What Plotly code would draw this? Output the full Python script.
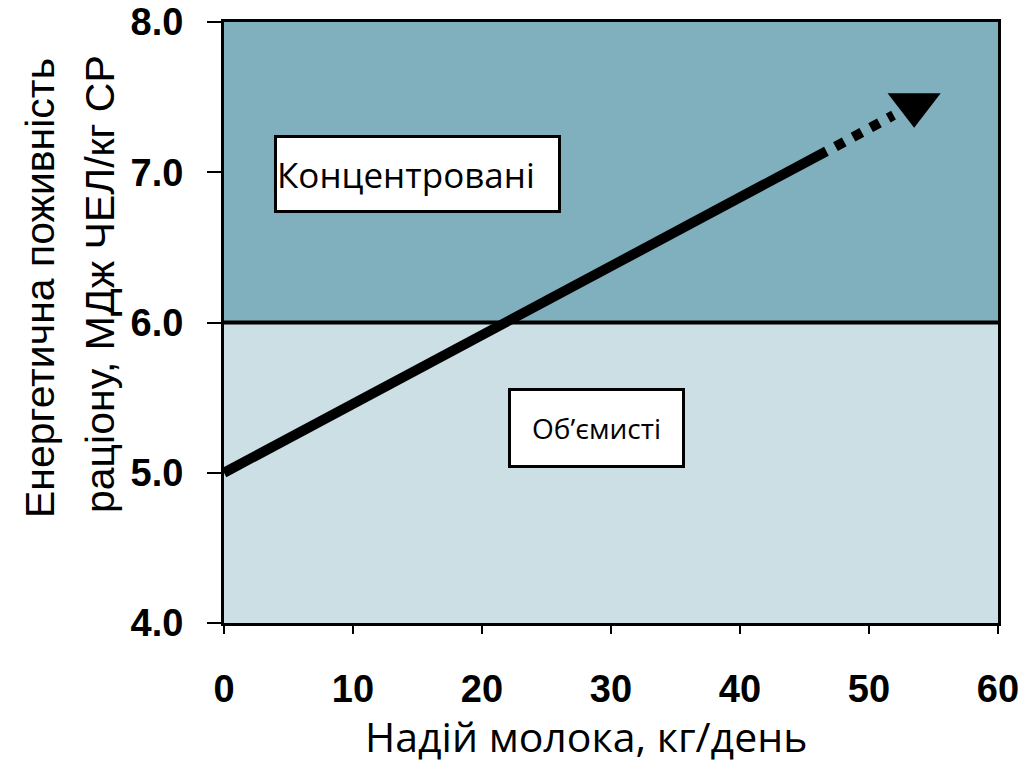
import plotly.graph_objects as go

# Data
milk_solid = [0, 46.7]
energy_solid = [5.0, 7.14]
milk_dash = [47.4, 51.9]
energy_dash = [7.17, 7.38]
arrow_x = [53.5]
arrow_y = [7.45]
threshold = 6.0
x_ticks = [0, 10, 20, 30, 40, 50, 60]
y_ticks = [4.0, 5.0, 6.0, 7.0, 8.0]
y_tick_text = ["4.0", "5.0", "6.0", "7.0", "8.0"]
label_top = "Концентровані"
label_bottom = "Об’ємисті"
x_title = "Надій молока, кг/день"
y_title_1 = "Енергетична поживність"
y_title_2 = "раціону, МДж ЧЕЛ/кг СР"

TOP_COLOR = "#80AFBD"
BOTTOM_COLOR = "#CCDFE5"

# body margin is removed in the page, so layout uses screen pixels directly
W, H = 1026, 765
L, T = 224, 22
R = W - 998
B = H - 623
pw, ph = W - L - R, H - T - B

fig = go.Figure()

fig.add_trace(go.Scatter(x=milk_solid, y=energy_solid, mode="lines",
                         line=dict(color="black", width=10), showlegend=False,
                         hoverinfo="skip"))
fig.add_trace(go.Scatter(x=milk_dash, y=energy_dash, mode="lines",
                         line=dict(color="black", width=10, dash="dot"),
                         showlegend=False, hoverinfo="skip"))
fig.add_trace(go.Scatter(x=arrow_x, y=arrow_y, mode="markers",
                         marker=dict(symbol="triangle-down", size=46, color="black",
                                     line=dict(width=0)),
                         showlegend=False, hoverinfo="skip"))

shapes = [
    dict(type="rect", xref="x domain", yref="y", x0=0, x1=1, y0=threshold, y1=8,
         fillcolor=TOP_COLOR, line=dict(width=0), layer="below"),
    dict(type="rect", xref="x domain", yref="y", x0=0, x1=1, y0=4, y1=threshold,
         fillcolor=BOTTOM_COLOR, line=dict(width=0), layer="below"),
    dict(type="line", xref="x domain", yref="y", x0=0, x1=1, y0=threshold, y1=threshold,
         line=dict(color="black", width=4), layer="below"),
]

annotations = [
    dict(x=15.0, y=6.99, xref="x", yref="y", text=label_top, showarrow=False,
         font=dict(family="Open Sans", size=35, color="black"),
         bgcolor="white", bordercolor="black", borderwidth=3, borderpad=0,
         width=281, height=72, align="left"),
    dict(x=28.9, y=5.30, xref="x", yref="y", text=label_bottom, showarrow=False,
         font=dict(family="Open Sans", size=28, color="black"),
         bgcolor="white", bordercolor="black", borderwidth=3, borderpad=0,
         width=171, height=74),
    dict(x=586, y=736, text=x_title, showarrow=False,
         font=dict(family="Open Sans", size=41, color="black")),
    dict(x=40, y=288, text=y_title_1, showarrow=False, textangle=-90,
         font=dict(family="Liberation Sans", size=41, color="black")),
    dict(x=100, y=284, text=y_title_2, showarrow=False, textangle=-90,
         font=dict(family="Liberation Sans", size=41, color="black")),
]

# convert screen-pixel-positioned annotations to paper coords
for a in annotations[2:]:
    px, py = a["x"], a["y"]
    a["x"] = (px - L) / pw
    a["y"] = 1 - (py - T) / ph
    a["xref"] = "paper"
    a["yref"] = "paper"
    a["xanchor"] = "center"
    a["yanchor"] = "middle"

fig.update_layout(
    width=W, height=H,
    margin=dict(l=L, r=R, t=T, b=B, autoexpand=False),
    paper_bgcolor="white", plot_bgcolor=BOTTOM_COLOR,
    shapes=shapes, annotations=annotations,
    showlegend=False,
)
fig.update_xaxes(range=[0, 60], tickvals=x_ticks, showgrid=False, zeroline=False,
                 automargin=False, ticklabeloverflow="allow",
                 showline=True, mirror=True, linecolor="black", linewidth=3,
                 ticks="outside", ticklen=8, tickwidth=2, tickcolor="black",
                 ticklabelstandoff=22,
                 tickfont=dict(family="Liberation Sans", size=38, color="black",
                               weight="bold"))
fig.update_yaxes(range=[4, 8], tickvals=y_ticks, ticktext=y_tick_text,
                 showgrid=False, zeroline=False, automargin=False,
                 ticklabeloverflow="allow",
                 showline=True, mirror=True, linecolor="black", linewidth=3,
                 ticks="outside", ticklen=14, tickwidth=2, tickcolor="black",
                 ticklabelstandoff=16,
                 tickfont=dict(family="Liberation Sans", size=38, color="black",
                               weight="bold"))

fig.write_html("out.html",
               config={"displayModeBar": False, "staticPlot": True},
               post_script="document.body.style.margin='0';"
                           "document.body.style.overflow='hidden';")
